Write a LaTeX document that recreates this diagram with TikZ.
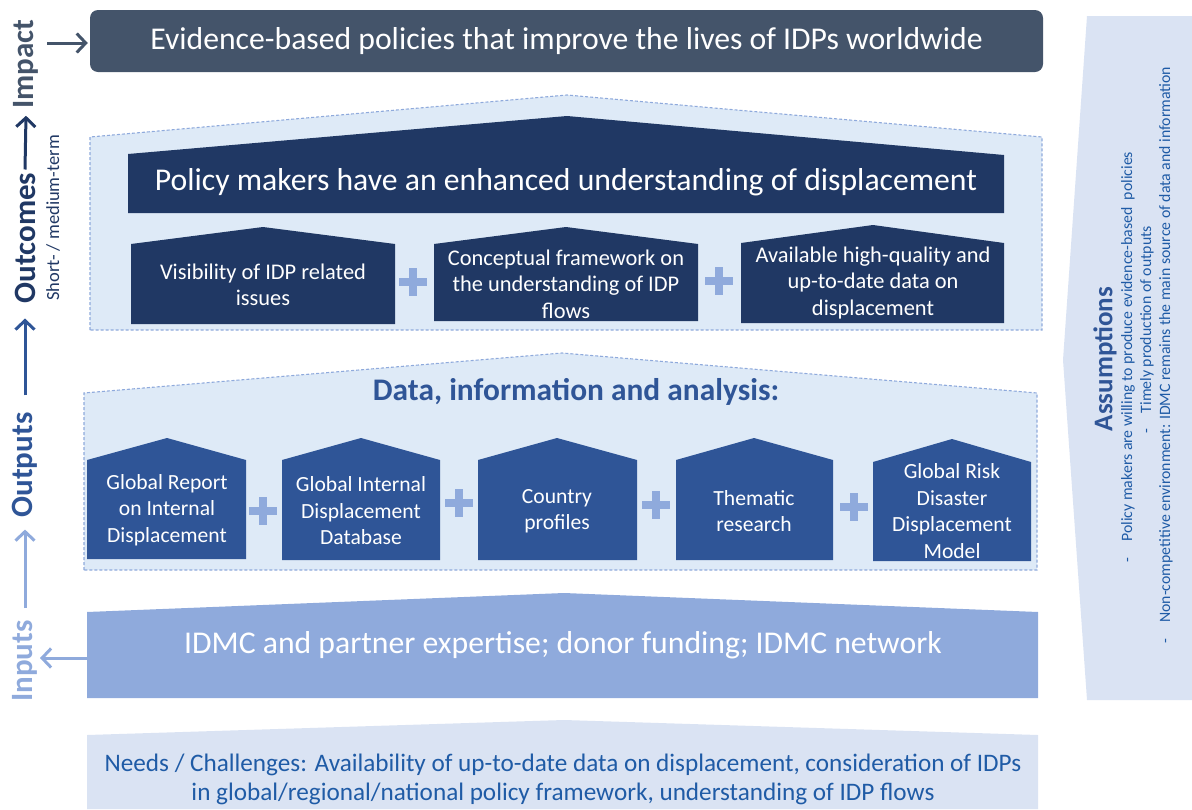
\documentclass[tikz,border=0pt]{standalone}
\usepackage{fontspec}
\setmainfont{Carlito}
\usetikzlibrary{arrows.meta}
\definecolor{impactc}{HTML}{44546A}
\definecolor{navy}{HTML}{203864}
\definecolor{midblue}{HTML}{2F5597}
\definecolor{lightblue}{HTML}{8FAADC}
\definecolor{contfill}{HTML}{DEEAF7}
\definecolor{palefill}{HTML}{DAE3F3}
\definecolor{txtblue}{HTML}{1F5BA6}
\tikzset{
  fs/.style 2 args={font=\fontsize{#1}{#2}\selectfont},
  boxtext/.style={text=white, align=center, inner sep=0pt},
  container/.style={fill=contfill, draw=lightblue, line width=1.1pt, dash pattern=on 3pt off 2pt},
  plussign/.style={draw=lightblue, line width=7.5pt},
  axislabel/.style={rotate=90, inner sep=0pt, font=\fontsize{31}{36}\selectfont\bfseries},
  upar/.style={line width=3pt, -{Straight Barb[length=9pt,width=19pt]}},
}
\newcommand\plusat[2]{\draw[plussign] (#1-14,#2) -- (#1+14,#2) (#1,#2-14) -- (#1,#2+14);}
\begin{document}
\begin{tikzpicture}[x=1pt,y=-1pt]
\useasboundingbox (0,0) rectangle (1192,809);

% Assumptions
\fill[palefill] (1087,16) -- (1063,360) -- (1087,700) -- (1192,700) -- (1192,16) -- cycle;
\node[rotate=90, inner sep=0pt, text=midblue, font=\fontsize{27}{31}\selectfont\bfseries] (assum) at (1105,359) {Assumptions};
\node[rotate=90, inner sep=0pt, text=txtblue, fs={15.8}{19}] (as1) at (1128,357) {-\quad Policy makers are willing to produce evidence-based\ \ policies};
\node[rotate=90, inner sep=0pt, text=txtblue, fs={15.8}{19}] (as2) at (1147,330) {-\quad Timely production of outputs};
\node[rotate=90, inner sep=0pt, text=txtblue, fs={15.8}{19}] (as3) at (1166,355) {-\quad Non-competitive environment: IDMC remains the main source of data and information};

% Impact
\node[fill=impactc, rounded corners=8pt, minimum width=953pt, minimum height=62pt, boxtext, fs={31.7}{36}] (impactbox) at (566.5,41) {Evidence-based policies that improve the lives of IDPs worldwide};

% Outcomes container
\filldraw[container] (90,330) -- (90,137) -- (567,95) -- (1042,137) -- (1042,330) -- cycle;
\fill[navy] (128,213) -- (128,154) -- (567,116) -- (1004,155) -- (1004,213) -- cycle;
\node[boxtext, fs={31.7}{36}] (policy) at (566,182) {Policy makers have an enhanced understanding of displacement};

\fill[navy] (131,324) -- (131,244) -- (263,227) -- (395,244) -- (395,324) -- cycle;
\node[boxtext, fs={22.4}{26.5}] (oc1) at (263,285) {Visibility of IDP related\\issues};
\fill[navy] (434,321) -- (434,244) -- (566,227) -- (698,244) -- (698,321) -- cycle;
\node[boxtext, fs={22.4}{26.5}] (oc2) at (566,284) {Conceptual framework on\\the understanding of IDP\\flows};
\fill[navy] (741,323) -- (741,243) -- (873,225) -- (1004,243) -- (1004,323) -- cycle;
\node[boxtext, fs={22.4}{26.5}] (oc3) at (873,283) {Available high-quality and\\up-to-date data on\\displacement};
\plusat{413}{282}
\plusat{719}{281}

% Outputs container
\filldraw[container] (84,570) -- (84,393) -- (562,353) -- (1037,393) -- (1037,570) -- cycle;
\node[inner sep=0pt, text=midblue, font=\fontsize{31.4}{36}\selectfont\bfseries] (datatitle) at (576,392) {Data, information and analysis:};

\fill[midblue] (87,559) -- (87,460) -- (167,438) -- (246,460) -- (246,559) -- cycle;
\node[boxtext, fs={21.6}{26.5}] (op1) at (167,510) {Global Report\\on Internal\\Displacement};
\fill[midblue] (282,560) -- (282,460) -- (361,438) -- (440,460) -- (440,560) -- cycle;
\node[boxtext, fs={21.6}{26.5}] (op2) at (361,511) {Global Internal\\Displacement\\Database};
\fill[midblue] (478,560) -- (478,460) -- (557,438) -- (637,460) -- (637,560) -- cycle;
\node[boxtext, fs={21.6}{26.5}] (op3) at (557,511) {Country\\profiles};
\fill[midblue] (676,560) -- (676,460) -- (754,438) -- (833,460) -- (833,560) -- cycle;
\node[boxtext, fs={21.6}{26.5}] (op4) at (754,511) {Thematic\\research};
\fill[midblue] (873,561) -- (873,462) -- (952,439) -- (1031,462) -- (1031,561) -- cycle;
\node[boxtext, fs={21.6}{26.5}] (op5) at (952,511) {Global Risk\\Disaster\\Displacement\\Model};
\plusat{263}{511}
\plusat{459}{503}
\plusat{656}{505}
\plusat{854}{507}

% Inputs
\fill[lightblue] (87,698) -- (87,612) -- (564,593) -- (1038,612) -- (1038,698) -- cycle;
\node[boxtext, fs={31.7}{36}] (inputsbox) at (563,645) {IDMC and partner expertise; donor funding; IDMC network};
\coordinate (inL) at (87,658);

% Needs
\fill[palefill] (87,809) -- (87,735) -- (564,720) -- (1038,735) -- (1038,809) -- cycle;
\node[inner sep=0pt, align=center, text=txtblue, fs={25.2}{29}] (needs) at (563,779) {Needs / Challenges: Availability of up-to-date data on displacement, consideration of IDPs\\in global/regional/national policy framework, understanding of IDP flows};

% Left axis
\node[axislabel, text=impactc] (impactlab) at (26,64) {Impact};
\node[axislabel, text=navy] (outcomeslab) at (25,238) {Outcomes};
\node[rotate=90, inner sep=0pt, text=navy, fs={18.5}{21}] (termlab) at (53,218) {Short- / medium-term};
\node[axislabel, text=midblue] (outputslab) at (25,465) {Outputs};
\node[axislabel, text=lightblue] (inputslab) at (25,661) {Inputs};

\draw[upar, draw=navy] ([yshift=3pt]outcomeslab.east) -- ([yshift=-7pt]impactlab.west);
\draw[upar, draw=midblue] ([yshift=17pt]outputslab.east) -- ([yshift=-15pt]outcomeslab.west);
\draw[upar, draw=lightblue] ([yshift=12pt]inputslab.east) -- ([yshift=-12pt]outputslab.west);
\coordinate (impL) at (47,43);
\draw[upar, draw=impactc] (impL) -- ([xshift=-2pt]impactbox.west |- impL);
\draw[upar, draw=lightblue] (inL) -- (40,658);
\end{tikzpicture}
\end{document}
